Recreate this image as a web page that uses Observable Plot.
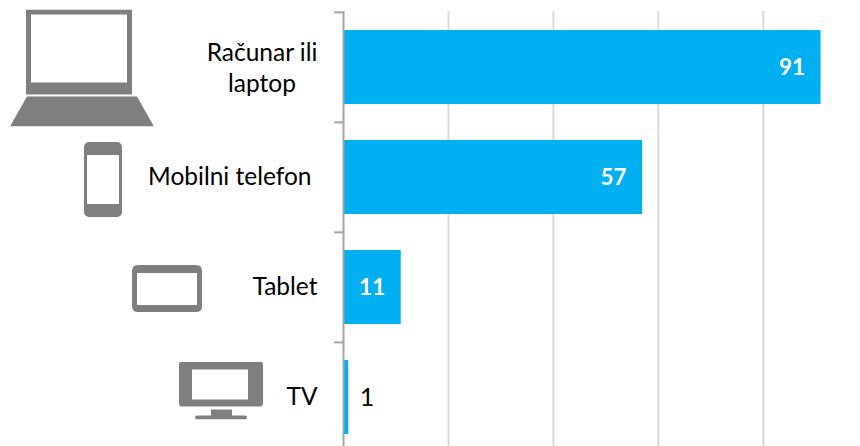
<!DOCTYPE html>
<html><head><meta charset="utf-8">
<script src="https://cdn.jsdelivr.net/npm/d3@7"></script>
<script src="https://cdn.jsdelivr.net/npm/@observablehq/plot@0.6"></script>
<style>html,body{margin:0;padding:0;background:#fff;overflow:hidden}</style>
</head><body><div id="chart"></div>
<script>
const categories = ["Računar ili\nlaptop", "Mobilni telefon", "Tablet", "TV"];
const values = [91, 57, 11, 1];
const gridTicks = [20, 40, 60, 80];

const rows = categories.map((c, i) => ({c, v: values[i]}));
const font = "Lato, Carlito, Calibri, sans-serif";
const gray = "#7f7f7f";
const uri = (w, h, body) => "data:image/svg+xml," + encodeURIComponent(
  `<svg xmlns="http://www.w3.org/2000/svg" width="${w}" height="${h}" viewBox="0 0 ${w} ${h}"><g fill="${gray}" fill-rule="evenodd">${body}</g></svg>`);

const laptop = uri(144, 117, `<path d="M17 0h104a1 1 0 0 1 1 1v84H16V1a1 1 0 0 1 1-1zM21 5v68h96V5z"/><path d="M17 87h110l17 30H0z"/>`);
const phone = uri(38, 75, `<path d="M5 0h28a5 5 0 0 1 5 5v65a5 5 0 0 1-5 5H5a5 5 0 0 1-5-5V5a5 5 0 0 1 5-5zM3 13v49h32V13z"/>`);
const tablet = uri(70, 47, `<path d="M6 0h58q6 0 6 6v35q0 6-6 6H6q-6 0-6-6V6q0-6 6-6zM5 8v32h60V8z"/>`);
const tv = uri(84, 58, `<path d="M3 0h78a3 3 0 0 1 3 3v39a3 3 0 0 1-3 3H3a3 3 0 0 1-3-3V3a3 3 0 0 1 3-3zM13 8v30h56V8z"/><rect x="32" y="48" width="21" height="7"/><rect x="16" y="54" width="52" height="4" rx="2"/>`);

const icon = (cat, src, w, h, dx, dy) =>
  Plot.image([cat], {x: () => 0, y: d => d, src: () => src, width: w, height: h, dx, dy, preserveAspectRatio: "none"});

const plot = Plot.plot({
  width: 860, height: 446,
  marginLeft: 343, marginRight: 18.5, marginTop: 11, marginBottom: -7,
  style: {overflow: "hidden", background: "#fff", fontFamily: font},
  x: {domain: [0, 95], axis: null},
  y: {domain: categories, paddingInner: 0.33, paddingOuter: 0.165, align: 0.5, label: null, axis: null},
  marks: [
    Plot.ruleX(gridTicks, {stroke: "#d9d9d9", strokeWidth: 2}),
    Plot.barX(rows, {y: "c", x1: () => 0, x2: "v", fill: "#00b0f0", insetLeft: 1}),
    Plot.ruleX([0], {stroke: "#a6a6a6", strokeWidth: 2}),
    Plot.axisY({anchor: "left", tickSize: 9, tickFormat: () => "", dy: -55.15, stroke: "#a6a6a6", strokeWidth: 2, label: null}),
    Plot.text(rows.slice(0, 1), {x: () => 0, y: "c", text: "c", dx: -81.5, dy: -1, textAnchor: "middle", lineHeight: 1.27, fontSize: 24.5, fill: "#000", fontFamily: font}),
    Plot.text(rows.slice(1, 2), {x: () => 0, y: "c", text: "c", dx: -32, dy: 0, textAnchor: "end", fontSize: 24.5, fill: "#000", fontFamily: font}),
    Plot.text(rows.slice(2), {x: () => 0, y: "c", text: "c", dx: -26, dy: 0, textAnchor: "end", fontSize: 24.5, fill: "#000", fontFamily: font}),
    Plot.text(rows.slice(0, 3), {x: "v", y: "c", text: d => String(d.v), dx: -16, textAnchor: "end", fontSize: 22.5, fontWeight: 700, fill: "#fff", fontFamily: font}),
    Plot.text(rows.slice(3), {x: "v", y: "c", text: d => String(d.v), dx: 11, textAnchor: "start", fontSize: 25, fill: "#000", fontFamily: font}),
    icon(categories[0], laptop, 144, 117, -261.5, 0.5),
    icon(categories[1], phone, 38, 75, -240.5, 2),
    icon(categories[2], tablet, 70, 47, -176.5, 1),
    icon(categories[3], tv, 84, 58, -122.5, -7)
  ]
});
document.getElementById("chart").append(plot);
</script></body></html>
